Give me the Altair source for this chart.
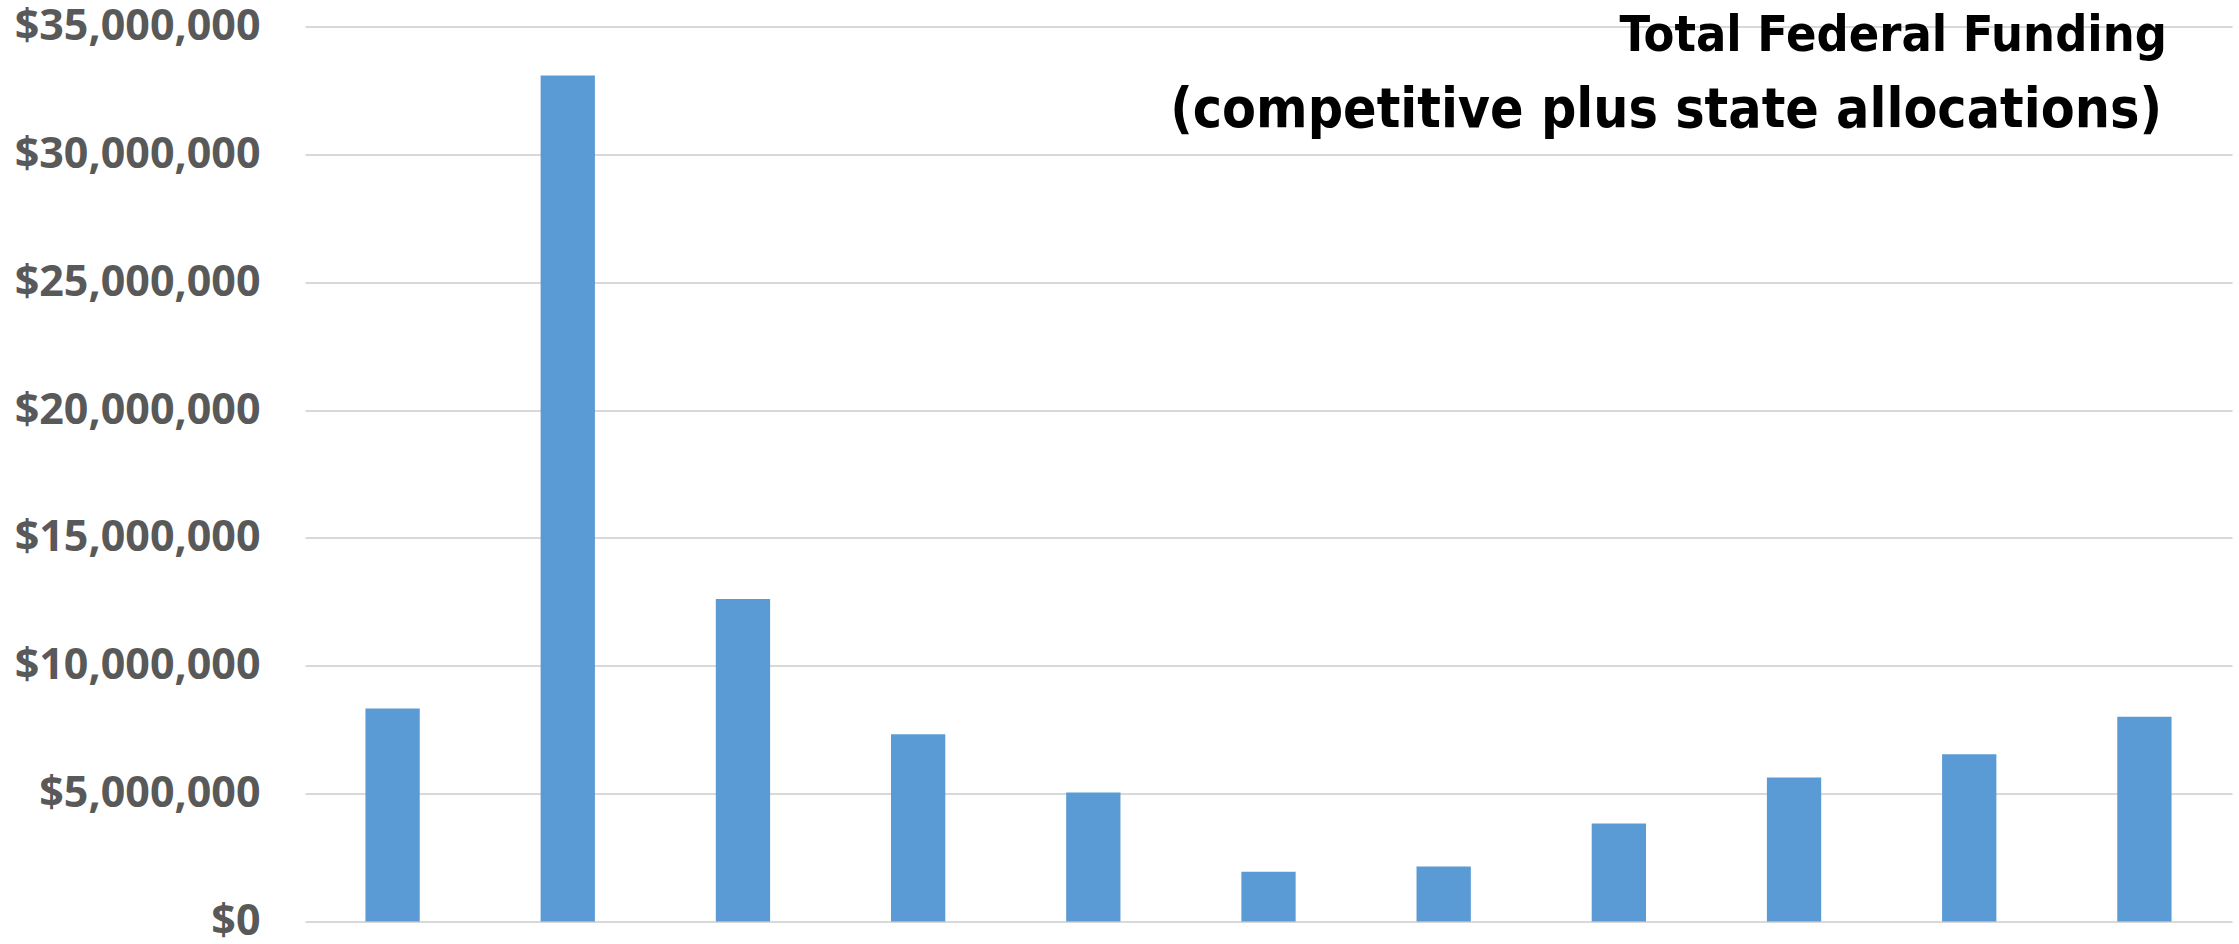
import altair as alt
import pandas as pd

# Data
categories = ["1", "2", "3", "4", "5", "6", "7", "8", "9", "10", "11"]
funding = [8330000, 33080000, 12610000, 7320000, 5040000, 1950000,
           2150000, 3830000, 5630000, 6540000, 8010000]
y_ticks = [0, 5000000, 10000000, 15000000, 20000000, 25000000, 30000000, 35000000]
title_line1 = ["Total Federal Funding"]
title_line2 = ["(competitive plus state allocations)"]

df = pd.DataFrame({"category": categories, "funding": funding})

W, H = 1927, 895
TITLE_FONT = "DejaVu Sans Condensed, DejaVu Sans, sans-serif"

bars = alt.Chart(df).mark_bar(color="#5b9bd5").encode(
    x=alt.X("category:N", sort=categories, axis=None,
            scale=alt.Scale(paddingInner=0.69, paddingOuter=0.345)),
    y=alt.Y("funding:Q",
            scale=alt.Scale(domain=[0, 35000000], nice=False),
            axis=alt.Axis(values=y_ticks, format="$,.0f", title=None,
                          domain=False, ticks=False, grid=True,
                          gridColor="#d9d9d9", gridWidth=2,
                          labelFont="Open Sans", labelFontWeight="bold",
                          labelFontSize=43, labelColor="#595959",
                          labelPadding=45, labelLimit=500)),
)

t1 = alt.Chart(pd.DataFrame({"t": title_line1})).mark_text(
    font=TITLE_FONT, fontWeight="bold", fontSize=50, color="#000000",
    align="right", baseline="alphabetic"
).encode(text="t:N", x=alt.value(1862), y=alt.value(24.5))

t2 = alt.Chart(pd.DataFrame({"t": title_line2})).mark_text(
    font=TITLE_FONT, fontWeight="bold", fontSize=55, color="#000000",
    align="right", baseline="alphabetic"
).encode(text="t:N", x=alt.value(1857), y=alt.value(100.5))

chart = alt.layer(bars, t1, t2).properties(
    width=W, height=H,
    autosize=alt.AutoSizeParams(type="none"),
    padding={"left": 305, "top": 26.5, "right": 7, "bottom": 22.5},
    background="#ffffff",
).configure_view(stroke=None)

chart.save("out.html", embed_options={"renderer": "svg", "actions": False})
